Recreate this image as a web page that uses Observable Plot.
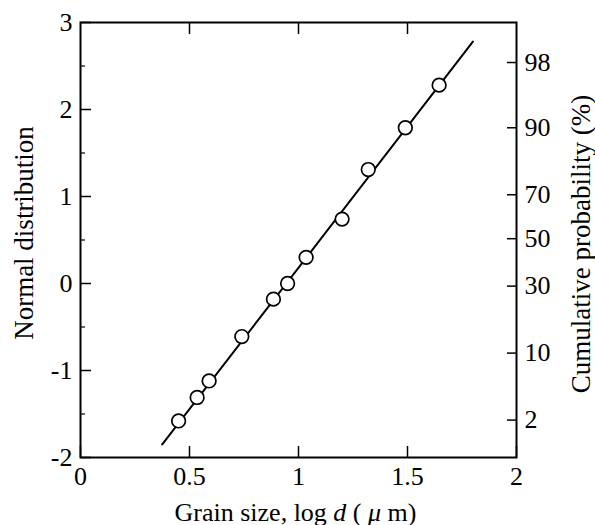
<!DOCTYPE html>
<html>
<head>
<meta charset="utf-8">
<script src="https://cdn.jsdelivr.net/npm/d3@7"></script>
<script src="https://cdn.jsdelivr.net/npm/@observablehq/plot@0.6"></script>
<style>
  html, body { margin: 0; padding: 0; background: #fff; }
  #chart { width: 595px; height: 525px; }
</style>
</head>
<body>
<div id="chart"></div>
<script>
// Measured points: log d (μm) vs normal-distribution variable
const grainLogD = [0.45, 0.535, 0.59, 0.74, 0.885, 0.95, 1.035, 1.20, 1.32, 1.49, 1.645];
const normalDist = [-1.58, -1.31, -1.12, -0.61, -0.18, 0.0, 0.30, 0.74, 1.31, 1.79, 2.28];

// Fitted straight line (end points)
const fitX = [0.375, 1.80];
const fitY = [-1.85, 2.78];

// Axis ticks
const xTicks = [0, 0.5, 1, 1.5, 2];
const xInnerTicks = [0.5, 1, 1.5];
const yTicks = [-2, -1, 0, 1, 2, 3];
const yMinorTicks = [-1.5, -0.5, 0.5, 1.5, 2.5];

// Right axis: cumulative probability (%) labels and their positions on the y scale
const probLabels = [98, 90, 70, 50, 30, 10, 2];
const probPos = [2.54, 1.79, 1.02, 0.515, -0.03, -0.80, -1.57];

const points = grainLogD.map((x, i) => ({x, y: normalDist[i]}));
const fit = fitX.map((x, i) => ({x, y: fitY[i]}));

const plot = Plot.plot({
  width: 595,
  height: 525,
  marginLeft: 80,
  marginRight: 79,
  marginTop: 22,
  marginBottom: 68,
  style: {fontFamily: "'Liberation Serif', 'Times New Roman', serif", fontSize: "26px", color: "black", background: "white"},
  x: {domain: [0, 2], axis: null, label: null},
  y: {domain: [-2, 3], axis: null, label: null},
  marks: [
    Plot.line(fit, {x: "x", y: "y", stroke: "black", strokeWidth: 2}),
    Plot.dot(points, {x: "x", y: "y", r: 6.8, stroke: "black", strokeWidth: 1.7, fill: "white"}),
    // bottom axis: inward ticks + labels
    Plot.axisX({anchor: "bottom", ticks: xTicks, tickSize: -11, tickPadding: 20, strokeWidth: 1.5,
      tickFormat: d => String(d), label: null}),
    // top axis: inward ticks only
    Plot.axisX({anchor: "top", ticks: xInnerTicks, tickSize: -11, strokeWidth: 1.5, text: null, label: null}),
    // left axis
    Plot.axisY({anchor: "left", ticks: yTicks, tickSize: -11, tickPadding: 19, strokeWidth: 1.5,
      tickFormat: d => String(d), label: null}),
    Plot.axisY({anchor: "left", ticks: yMinorTicks, tickSize: -5, strokeWidth: 1.2, text: null, label: null}),
    // right axis (cumulative probability)
    Plot.axisY({anchor: "right", ticks: probPos, tickSize: -10, tickPadding: 18, strokeWidth: 1.5,
      tickFormat: d => String(probLabels[probPos.indexOf(d)]), label: null}),
    Plot.frame({stroke: "black", strokeWidth: 2}),
    // axis titles
    Plot.text(["Normal distribution"], {frameAnchor: "left", textAnchor: "middle", rotate: -90, lineAnchor: "bottom",
      dx: -48, dy: -7, fontSize: 27, fill: "black"}),
    Plot.text(["Cumulative probability (%)"], {frameAnchor: "right", textAnchor: "middle", rotate: -90, lineAnchor: "bottom",
      dx: 73, dy: 4, fontSize: 27, fill: "black"}),
    Plot.text(["Grain size, log d ( μ m)"], {frameAnchor: "bottom", textAnchor: "middle", lineAnchor: "bottom",
      dx: -3, dy: 63, fontSize: 26, fill: "black"})
  ]
});

// italicize the "d" and "μ" in the x title (kept as real text)
d3.select(plot).selectAll("text").each(function() {
  const t = d3.select(this);
  if (t.text() === "Grain size, log d ( μ m)") {
    t.text(null);
    t.append("tspan").text("Grain size, log ");
    t.append("tspan").attr("font-style", "italic").text("d");
    t.append("tspan").text(" ( ");
    t.append("tspan").attr("font-style", "italic").text("μ");
    t.append("tspan").text(" m)");
  }
});

document.getElementById("chart").appendChild(plot);
</script>
</body>
</html>
